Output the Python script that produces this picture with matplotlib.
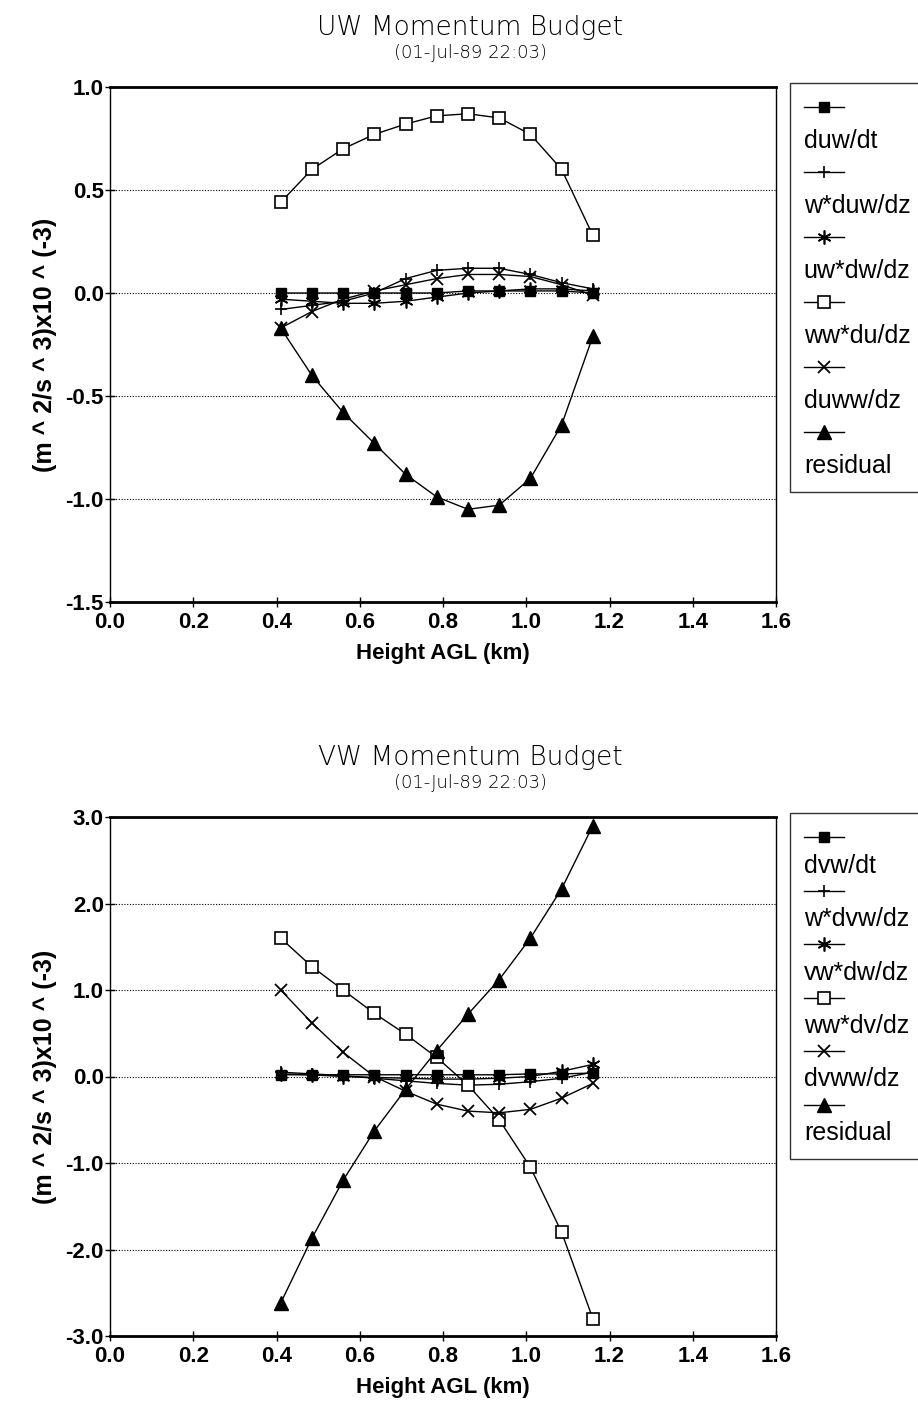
import numpy as np
import matplotlib.pyplot as plt
from matplotlib.lines import Line2D

# heights (km) shared by both budgets
height = [0.41, 0.485, 0.56, 0.635, 0.71, 0.785, 0.86, 0.935, 1.01, 1.085, 1.16]

# UW budget terms, (m^2/s^3)x10^(-3)
uw_labels = ['duw/dt', 'w*duw/dz', 'uw*dw/dz', 'ww*du/dz', 'duww/dz', 'residual']
duw_dt = [0.0, 0.0, 0.0, 0.0, 0.0, 0.0, 0.01, 0.01, 0.01, 0.01, 0.0]
w_duw_dz = [-0.08, -0.06, -0.04, 0.0, 0.07, 0.11, 0.12, 0.12, 0.09, 0.05, 0.02]
uw_dw_dz = [-0.03, -0.04, -0.05, -0.05, -0.04, -0.02, 0.0, 0.01, 0.02, 0.02, 0.01]
ww_du_dz = [0.44, 0.60, 0.70, 0.77, 0.82, 0.86, 0.87, 0.85, 0.77, 0.60, 0.28]
duww_dz = [-0.17, -0.09, -0.03, 0.01, 0.04, 0.07, 0.09, 0.09, 0.08, 0.04, -0.01]
uw_resid = [-0.17, -0.40, -0.58, -0.73, -0.88, -0.99, -1.05, -1.03, -0.90, -0.64, -0.21]

# VW budget terms
vw_labels = ['dvw/dt', 'w*dvw/dz', 'vw*dw/dz', 'ww*dv/dz', 'dvww/dz', 'residual']
dvw_dt = [0.02, 0.02, 0.02, 0.02, 0.02, 0.02, 0.02, 0.02, 0.03, 0.03, 0.04]
w_dvw_dz = [0.05, 0.03, 0.01, -0.02, -0.05, -0.08, -0.10, -0.09, -0.06, -0.02, 0.05]
vw_dw_dz = [0.03, 0.02, 0.0, -0.01, -0.02, -0.03, -0.03, -0.02, 0.0, 0.06, 0.14]
ww_dv_dz = [1.60, 1.27, 1.00, 0.73, 0.49, 0.22, -0.10, -0.50, -1.05, -1.80, -2.80]
dvww_dz = [1.00, 0.62, 0.28, 0.0, -0.17, -0.32, -0.40, -0.42, -0.38, -0.25, -0.08]
vw_resid = [-2.62, -1.87, -1.20, -0.63, -0.15, 0.30, 0.72, 1.12, 1.60, 2.17, 2.90]

# marker styles for the six terms
styles = [
    dict(marker='s', ms=7, mfc='black'),
    dict(marker='+', ms=9, mew=1.2),
    dict(marker=(6, 2, 0), ms=10, mew=1.2),
    dict(marker='s', ms=8, mfc='white', mew=1.2),
    dict(marker='x', ms=8, mew=1.3),
    dict(marker='^', ms=10, mfc='black'),
]

tick_font = dict(family='Liberation Sans', weight='bold', size=16)
label_font = dict(family='Liberation Sans', weight='bold', size=16)


def budget_plot(ax, series, labels, ylim, yticks, title, leg_top, spacing):
    handles = []
    for y, st in zip(series, styles):
        ln, = ax.plot(height, y, color='black', lw=1.0, **st)
        handles.append(ln)
    ax.set_xlim(0, 1.6)
    ax.set_ylim(*ylim)
    xt = np.arange(0, 1.61, 0.2)
    ax.set_xticks(xt)
    ax.set_yticks(yticks)
    ax.set_xticklabels(['%.1f' % v for v in xt], **tick_font)
    ax.set_yticklabels(['%.1f' % v for v in yticks], **tick_font)
    ax.tick_params(direction='inout', length=7, width=1, pad=1)
    ax.tick_params(axis='x', pad=4)
    for yv in yticks[1:-1]:
        ax.axhline(yv, color='black', lw=0.8, ls=(0, (1, 1.5)), zorder=0)
    for s in ax.spines.values():
        s.set_linewidth(1.0)
    ax.spines['top'].set_linewidth(2.0)
    ax.spines['bottom'].set_linewidth(2.0)
    ax.set_xlabel('Height AGL (km)', labelpad=7, **label_font)
    ax.set_ylabel('(m ^ 2/s ^ 3)x10 ^ (-3)', labelpad=6,
                  family='Liberation Sans', weight='bold', size=18)

    # legend: marker row then text row, box runs off the right edge
    blank = Line2D([], [], color='none')
    hs, ls = [], []
    for h, lab in zip(handles, labels):
        hs += [h, blank]
        ls += [' ', lab]
    leg = ax.legend(hs, ls, loc='upper left', bbox_to_anchor=(790 / 918, 1 - leg_top / 1403),
                    bbox_transform=ax.figure.transFigure, borderaxespad=0, frameon=True,
                    fancybox=False, edgecolor='black', handlelength=1.6, handletextpad=-1.6,
                    labelspacing=spacing, borderpad=0.55,
                    prop=dict(family='Liberation Sans', size=18))
    leg.get_frame().set_linewidth(1.0)

    pos = ax.get_position()
    fig.text(470 / 918, pos.y1 + 52 / 1403, title, ha='center', va='baseline',
             family='DejaVu Sans', size=19, weight='light')
    fig.text(470 / 918, pos.y1 + 29 / 1403, '(01-Jul-89 22:03)', ha='center', va='baseline',
             family='DejaVu Sans', size=13, weight='light')


fig = plt.figure(figsize=(9.18, 14.03), dpi=100)
ax1 = fig.add_axes([110 / 918, 1 - 602 / 1403, 666 / 918, 515 / 1403])
ax2 = fig.add_axes([110 / 918, 1 - 1336 / 1403, 666 / 918, 519 / 1403])

budget_plot(ax1, [duw_dt, w_duw_dz, uw_dw_dz, ww_du_dz, duww_dz, uw_resid], uw_labels,
            (-1.5, 1.0), [-1.5, -1.0, -0.5, 0.0, 0.5, 1.0], 'UW Momentum Budget', 83, 0.34)
budget_plot(ax2, [dvw_dt, w_dvw_dz, vw_dw_dz, ww_dv_dz, dvww_dz, vw_resid], vw_labels,
            (-3.0, 3.0), [-3.0, -2.0, -1.0, 0.0, 1.0, 2.0, 3.0], 'VW Momentum Budget', 813, 0.11)

fig.savefig('out.png', dpi=100)
